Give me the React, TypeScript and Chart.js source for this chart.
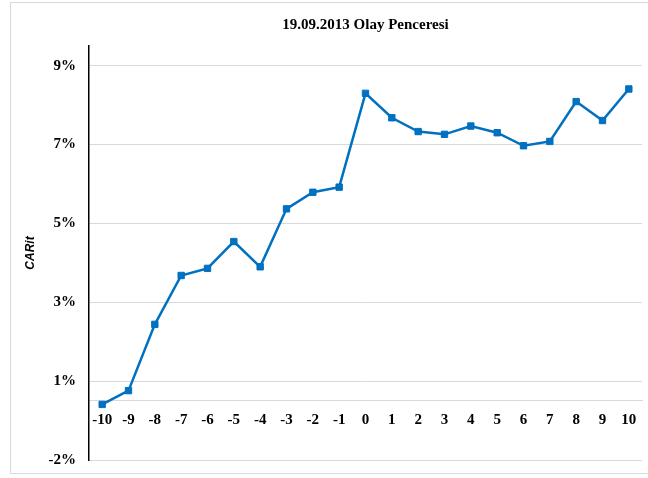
import React, { useEffect, useRef } from "react";
import { Chart, registerables } from "chart.js";

Chart.register(...registerables);

const TITLE = "19.09.2013 Olay Penceresi";
const Y_TITLE = "CARit";
const EVENT_DAYS = ["-10", "-9", "-8", "-7", "-6", "-5", "-4", "-3", "-2", "-1", "0", "1", "2", "3", "4", "5", "6", "7", "8", "9", "10"];
const CAR_VALUES = [-0.09, 0.26, 1.94, 3.18, 3.36, 4.04, 3.4, 4.87, 5.29, 5.42, 7.8, 7.18, 6.83, 6.76, 6.97, 6.8, 6.47, 6.58, 7.59, 7.11, 7.91];
const Y_TICK_VALUES = [-1.5, 0.5, 2.5, 4.5, 6.5, 8.5];
const Y_TICK_LABELS = ["-2%", "1%", "3%", "5%", "7%", "9%"];
const Y_MIN = -1.5;
const Y_MAX = 9.0;

const SERIF = "'Liberation Serif', 'Times New Roman', serif";
const SANS = "'Liberation Sans', Arial, sans-serif";

const frame = {
  id: "frame",
  beforeDraw(chart: any) {
    const ctx = chart.ctx;
    ctx.save();
    ctx.fillStyle = "#ffffff";
    ctx.fillRect(0, 0, chart.width, chart.height);
    ctx.strokeStyle = "#D9D9D9";
    ctx.lineWidth = 1;
    ctx.strokeRect(10.5, 2.5, 660, 471);
    ctx.restore();
  },
};

export default function App() {
  const ref = useRef<HTMLCanvasElement | null>(null);

  useEffect(() => {
    document.body.style.margin = "0";
    const canvas = ref.current;
    if (!canvas) return;
    const chart = new Chart(canvas, {
      type: "line",
      data: {
        labels: EVENT_DAYS,
        datasets: [
          {
            data: CAR_VALUES,
            borderColor: "#0070C0",
            backgroundColor: "#0070C0",
            borderWidth: 2.5,
            pointStyle: "rect",
            pointRadius: 4.5,
            pointBorderWidth: 1,
            pointBorderColor: "#0070C0",
            pointBackgroundColor: "#0070C0",
            tension: 0,
          },
        ],
      },
      options: {
        animation: false,
        responsive: false,
        devicePixelRatio: 1,
        layout: { padding: { left: 0, right: 6, top: 0, bottom: 18 } },
        plugins: {
          legend: { display: false },
          tooltip: { enabled: false },
          title: {
            display: true,
            text: TITLE,
            fullSize: false,
            color: "#000000",
            font: { family: SERIF, size: 15, weight: "bold" },
            padding: { top: 16, bottom: 12 },
          },
        },
        scales: {
          x: {
            type: "category",
            offset: true,
            position: { y: 0 },
            afterFit(scale: any) {
              scale.height = 0;
            },
            grid: { display: true, color: "rgba(0,0,0,0)", drawTicks: false, offset: true },
            border: { display: true, color: "#D9D9D9", width: 1 },
            ticks: {
              color: "#000000",
              font: { family: SERIF, size: 15, weight: "bold" },
              padding: 10,
              maxRotation: 0,
              autoSkip: false,
            },
          },
          y: {
            type: "linear",
            min: Y_MIN,
            max: Y_MAX,
            afterBuildTicks(scale: any) {
              scale.ticks = Y_TICK_VALUES.map((v) => ({ value: v }));
            },
            afterFit(scale: any) {
              scale.width = 89;
              scale.paddingTop = 0;
              scale.paddingBottom = 0;
            },
            grid: { color: "#D9D9D9", lineWidth: 1, drawTicks: false },
            border: { display: true, color: "#000000", width: 1.5 },
            ticks: {
              color: "#000000",
              font: { family: SERIF, size: 15, weight: "bold" },
              padding: 13,
              callback: (_v: any, i: number) => Y_TICK_LABELS[i],
            },
            title: {
              display: true,
              text: Y_TITLE,
              color: "#000000",
              font: { family: SANS, size: 12, weight: "bold", style: "italic" },
              padding: { top: 23, bottom: 0 },
            },
          },
        },
      },
      plugins: [frame],
    } as any);
    return () => chart.destroy();
  }, []);

  return <canvas ref={ref} width={648} height={478} style={{ display: "block" }} />;
}
